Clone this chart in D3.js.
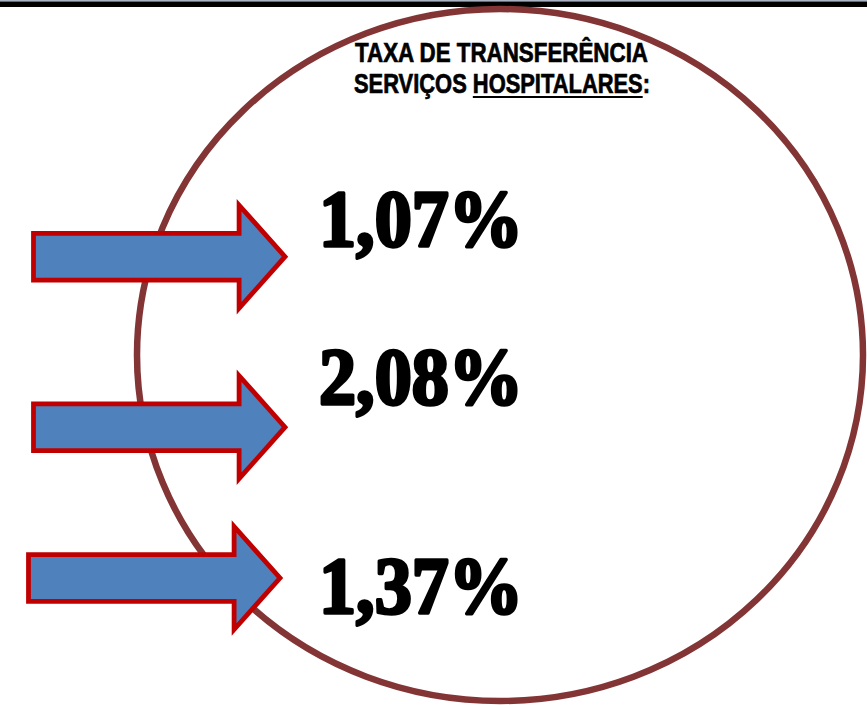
<!DOCTYPE html>
<html>
<head>
<meta charset="utf-8">
<script src="https://cdn.jsdelivr.net/npm/d3@7"></script>
<style>
  body { margin: 0; background: white; }
  svg { display: block; }
</style>
</head>
<body>
<div id="content"></div>
<script>
var WIDTH = 867;
var HEIGHT = 705;

// data
var titleLine1 = "TAXA DE TRANSFERÊNCIA";
var titleLine2 = "SERVIÇOS HOSPITALARES:";
var underlined = "HOSPITALARES";
var rates = ["1,07%", "2,08%", "1,37%"];

// layout (per row: arrow center, text baseline, arrow x shift)
var arrowCenters = [256.7, 427.2, 578];
var labelBaselines = [246, 404, 613];
var arrowShift = [0, 0, -5];

var svg = d3.select('#content').append('svg')
    .attr('width', WIDTH)
    .attr('height', HEIGHT)
    .style('background-color', 'white')

// top rule
svg.append('rect')
    .attr('x', 0).attr('y', 0)
    .attr('width', WIDTH).attr('height', 1.5)
    .attr('fill', '#a9b3c4')
svg.append('rect')
    .attr('x', 0).attr('y', 1.5)
    .attr('width', WIDTH).attr('height', 5.5)
    .attr('fill', 'black')

// the big ring
svg.append('ellipse')
    .attr('cx', 500)
    .attr('cy', 355)
    .attr('rx', 363)
    .attr('ry', 346)
    .attr('fill', 'none')
    .attr('stroke', '#833535')
    .attr('stroke-width', 6.5)

// arrows
var x = d3.scaleLinear().domain([0, 1]).range([33.5, 285]);
var arrowShape = function(i) {
    var cy = arrowCenters[i], dx = arrowShift[i];
    var x0 = x(0) + dx, xb = x(0.8175) + dx, xt = x(1) + dx;
    var sh = 23.4, hh = 51.5;
    return d3.line()([
        [x0, cy - sh], [xb, cy - sh], [xb, cy - hh], [xt, cy],
        [xb, cy + hh], [xb, cy + sh], [x0, cy + sh]
    ]) + 'Z';
};

svg.append('g')
    .selectAll('path')
    .data(rates)
    .enter().append('path')
    .attr('d', (d, i) => arrowShape(i))
    .attr('fill', '#4f81bd')
    .attr('stroke', '#c00000')
    .attr('stroke-width', 4.8)
    .attr('stroke-linejoin', 'miter')

// percentages
svg.append('g')
    .selectAll('text')
    .data(rates)
    .enter().append('text')
    .text(d => d)
    .attr('x', 319)
    .attr('y', (d, i) => labelBaselines[i])
    .attr('textLength', 204)
    .attr('lengthAdjust', 'spacingAndGlyphs')
    .attr('font-family', '"Liberation Serif", "DejaVu Serif", serif')
    .attr('font-weight', 'bold')
    .attr('font-size', 81)
    .attr('fill', 'black')
    .attr('stroke', 'black')
    .attr('stroke-width', 3.4)
    .attr('stroke-linejoin', 'round')

// title
var titleFont = '"Liberation Sans Narrow", "Liberation Sans", Arial, sans-serif';
svg.append('text')
    .text(titleLine1)
    .attr('x', 355)
    .attr('y', 61.7)
    .attr('textLength', 293)
    .attr('lengthAdjust', 'spacingAndGlyphs')
    .attr('font-family', titleFont)
    .attr('font-weight', 'bold')
    .attr('font-size', 27)
    .attr('fill', 'black')
    .attr('stroke', 'black')
    .attr('stroke-width', 0.7)

var t2 = svg.append('text')
    .text(titleLine2)
    .attr('x', 354)
    .attr('y', 93.3)
    .attr('textLength', 296)
    .attr('lengthAdjust', 'spacingAndGlyphs')
    .attr('font-family', titleFont)
    .attr('font-weight', 'bold')
    .attr('font-size', 27)
    .attr('fill', 'black')
    .attr('stroke', 'black')
    .attr('stroke-width', 0.7)

// underline under HOSPITALARES
var node = t2.node();
var i0 = titleLine2.indexOf(underlined);
var i1 = i0 + underlined.length - 1;
var e0 = node.getExtentOfChar(i0);
var e1 = node.getExtentOfChar(i1);
svg.append('rect')
    .attr('x', e0.x)
    .attr('y', 96)
    .attr('width', e1.x + e1.width - e0.x)
    .attr('height', 2)
    .attr('fill', 'black')
</script>
</body>
</html>
